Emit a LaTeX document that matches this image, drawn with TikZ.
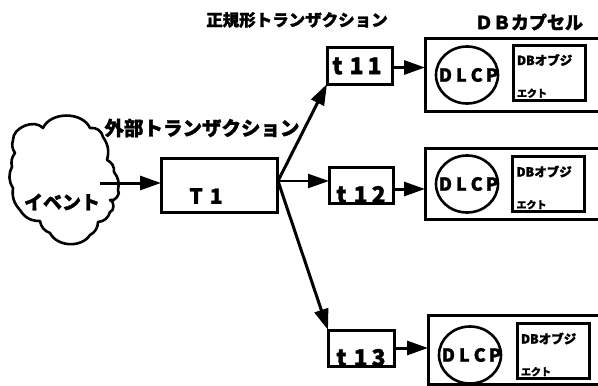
\documentclass[tikz,border=0pt]{standalone}
\usepackage{fontspec}
\newfontfamily\jp[FakeBold=1.4]{Noto Sans CJK JP}
\usetikzlibrary{arrows.meta,shapes.geometric,calc}
\newcommand\lsp[1][4pt]{\kern#1}
\begin{document}
\begin{tikzpicture}[x=1pt,y=-1pt,
  every node/.style={inner sep=0pt, outer sep=0pt},
  box/.style={draw, line width=3pt, rectangle},
  arr/.style={line width=3pt, -{Triangle[length=21pt,width=14pt]}},
  lab/.style={font=\jp\bfseries\fontsize{#1}{#1}\selectfont},
  lab/.default=16pt,
  dlcp/.style={draw, line width=2.6pt, ellipse, minimum width=62pt, minimum height=57pt},
  dlcptxt/.style={font=\jp\bfseries\fontsize{18pt}{18pt}\selectfont},
  objbox/.style={box, minimum width=72pt, minimum height=55pt},
  captxt/.style={font=\jp\bfseries\fontsize{12.5pt}{12.5pt}\selectfont, anchor=west},
  captxtb/.style={font=\jp\bfseries\fontsize{10pt}{10pt}\selectfont, anchor=base west},
]
\clip (0,0) rectangle (598,386);
\fill[white] (0,0) rectangle (598,386);

% titles
\node[lab=16.5pt] (title1) at (297,20) {正規形トランザクション};
\node[lab=18pt] (title2) at (529,22) {ＤＢカプセル};
\node[lab=19.5pt] (extlab) at (202,128) {外部トランザクション};

% cloud
\draw[line width=2.6pt, line join=round]
  (13,140) to[bend left=70] (43,128) to[bend left=65] (90,128)
  to[bend left=45] (103,137) to[bend left=25] (107,160)
  to[bend left=35] (114,172) to[bend left=25] (118,190)
  to[bend left=80] (110,200) to[bend left=80] (110,212)
  to[bend left=35] (98,222) to[bend left=30] (90,235)
  to[bend left=60] (50,233) to[bend left=30] (40,221)
  to[bend left=30] (20,210) to[bend left=25] (13,188)
  to[bend left=30] (12,167) to[bend left=25] (15,153)
  to[bend left=25] cycle;
\node[lab=19pt] (event) at (62,202) {イベント};

% T1
\node[box, minimum width=116pt, minimum height=54pt] (T1) at (219,185) {};
\node[lab=21pt] (T1text) at (206,196) {T\lsp[7pt]1};

% t boxes
\node[box, minimum width=65pt, minimum height=37pt] (t11) at (359.5,65.5) {};
\node[lab=23pt] (t11text) at (357,66) {t\lsp[7pt]1\lsp[4pt]1};
\node[box, minimum width=64pt, minimum height=36pt] (t12) at (361,185) {};
\node[lab=23pt, anchor=base] (t12text) at (361,203) {t\lsp[7pt]1\lsp[4pt]2};
\node[box, minimum width=66pt, minimum height=36pt] (t13) at (361,348) {};
\node[lab=23pt, anchor=base] (t13text) at (361,366) {t\lsp[7pt]1\lsp[4pt]3};

% capsules
\node[box, minimum width=185pt, minimum height=73pt] (cap1) at (517.5,74.5) {};
\node[box, minimum width=185pt, minimum height=71pt] (cap2) at (517.5,183.5) {};
\node[box, minimum width=182pt, minimum height=69pt] (cap3) at (519,349.5) {};

\node[dlcp, label={[dlcptxt, xshift=1.5pt]center:D\lsp[4pt]L\lsp[4pt]C\lsp[3pt]P}] (c1) at (467,75) {};
\node[dlcp, label={[dlcptxt, xshift=1.5pt]center:D\lsp[4pt]L\lsp[4pt]C\lsp[3pt]P}] (c2) at (467,184) {};
\node[dlcp, label={[dlcptxt, xshift=1.5pt]center:D\lsp[4pt]L\lsp[4pt]C\lsp[3pt]P}] (c3) at (470,355) {};

\node[objbox] (o1) at (549,72.5) {};
\node[objbox] (o2) at (548.5,184) {};
\node[objbox] (o3) at (553,351) {};
\foreach \o in {o1,o2,o3}{
  \node[captxt] at ($(\o.north west)+(4,15)$) {DBオブジ};
  \node[captxtb] at ($(\o.south west)+(4,-3)$) {エクト};
}

% connectors
\coordinate (fan) at (278,181);
\coordinate (evout) at (100,183);
\draw[arr] (evout) -- (evout -| T1.west);
\draw[arr] (fan) -- (t11.south west);
\draw[arr, line width=2.2pt] (fan) -- (fan -| t12.west);
\draw[arr] (fan) -- (t13.north west);
\draw[arr] (t11.east) ++(0,2) coordinate (a1) -- (a1 -| cap1.west);
\draw[arr] (t12.east) ++(0,4) coordinate (a2) -- (a2 -| cap2.west);
\draw[arr] (t13.east) coordinate (a3) -- (a3 -| cap3.west);
\end{tikzpicture}
\end{document}
